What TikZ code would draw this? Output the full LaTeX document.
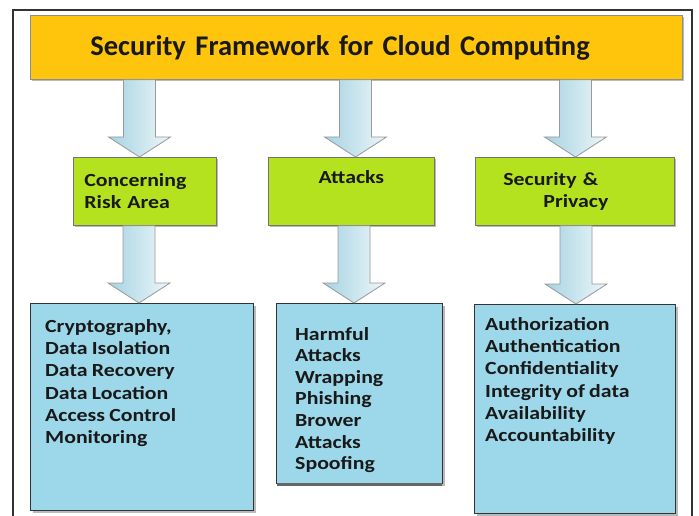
\documentclass[tikz,border=0pt]{standalone}
\usepackage{fontspec}
\setmainfont{Carlito}[WordSpace=0.85]
\newfontfamily\boxfont{Carlito}[FakeStretch=1.18,WordSpace=0.85]
\usetikzlibrary{shadows,calc}
\definecolor{orangefill}{RGB}{255,196,12}
\definecolor{greenfill}{RGB}{180,226,30}
\definecolor{bluefill}{RGB}{157,216,234}
\definecolor{arrowblue}{RGB}{165,211,226}
\definecolor{textdark}{RGB}{25,25,25}
\begin{document}
\begin{tikzpicture}[x=1pt,y=-1pt,
  shade/.style={drop shadow={shadow xshift=2pt,shadow yshift=-2pt,fill=black!45,opacity=0.6}},
  titlebox/.style={draw=black!45,line width=0.8pt,fill=orangefill,shade,minimum width=652pt,minimum height=64pt,anchor=north west,
     text width=532pt,align=left,inner xsep=60pt,font=\bfseries\fontsize{28.5}{30}\selectfont,text=textdark},
  greenbox/.style={draw=black!55,line width=0.8pt,fill=greenfill,shade,minimum height=68pt,anchor=north west,
     font=\boxfont\bfseries\fontsize{18.5}{22}\selectfont,text=textdark},
  bluebox/.style={draw=black!80,line width=1.2pt,fill=bluefill,shade,anchor=north west},
  itemtext/.style={anchor=north west,align=left,inner sep=0pt,font=\boxfont\bfseries\fontsize{18.5}{22.3}\selectfont,text=textdark},
  blockarrow/.style={draw=black!40,line width=0.8pt,left color=arrowblue,right color=arrowblue!20}
]
\useasboundingbox (0,0) rectangle (699,516);
\fill[white] (0,0) rectangle (699,516);
% outer frame
\draw[line width=2pt,black!80] (13,516) -- (13,10) -- (692,10) -- (692,516);

% title
\node[titlebox] (title) at (30,15) {Security Framework for Cloud Computing};

% green boxes
\node[greenbox,minimum width=143pt,text width=121pt,inner xsep=11pt,align=left] (g1) at (73,157) {Concerning\\Risk Area};
\node[greenbox,minimum width=166pt,text width=140pt,inner xsep=8pt,align=center] (g2) at (268,157) {Attacks\\\strut};
\node[greenbox,minimum width=199pt,text width=143pt,inner xsep=28pt,align=left] (g3) at (475,157) {Security \&\\\hspace*{40pt}Privacy};

% blue boxes
\node[bluebox,minimum width=223pt,minimum height=207pt] (b1) at (30,303) {};
\node[bluebox,minimum width=166pt,minimum height=180pt] (b2) at (276,303) {};
\draw[line width=3pt,black!60] ([xshift=1pt]b2.south west) -- ([xshift=-1pt]b2.south east);
\node[bluebox,minimum width=201pt,minimum height=209pt] (b3) at (474,304) {};

\node[itemtext] (t1) at ($(b1.north west)+(15,16)$) {Cryptography,\\Data Isolation\\Data Recovery\\Data Location\\Access Control\\Monitoring};
\node[itemtext,font=\boxfont\bfseries\fontsize{18.5}{21.6}\selectfont] (t2) at ($(b2.north west)+(19,24)$) {Harmful\\Attacks\\Wrapping\\Phishing\\Brower\\Attacks\\Spoofing};
\node[itemtext] (t3) at ($(b3.north west)+(11,13)$) {Authorization\\Authentication\\Confidentiality\\Integrity of data\\Availability\\Accountability};

% arrow axes
\coordinate (c1) at (139.5,0);
\coordinate (c2) at (355.5,0);
\coordinate (c3) at (575.5,0);
\coordinate (d1) at (139,0);
\coordinate (d2) at (354,0);
\coordinate (d3) at (576,0);

\newcommand\blkarrow[2]{%
  \path[blockarrow] let \p1=(#1), \p2=(#2) in
    (\x1-16pt,\y1) -- (\x1+16pt,\y1) -- (\x1+16pt,\y2+20pt) -- (\x1+31pt,\y2+20pt) --
    (\x1,\y2) -- (\x1-31pt,\y2+20pt) -- (\x1-16pt,\y2+20pt) -- cycle;}
\blkarrow{title.south -| c1}{g1.north -| c1}
\blkarrow{title.south -| c2}{g2.north -| c2}
\blkarrow{title.south -| c3}{g3.north -| c3}
\blkarrow{g1.south -| d1}{b1.north -| d1}
\blkarrow{g2.south -| d2}{b2.north -| d2}
\blkarrow{g3.south -| d3}{b3.north -| d3}
\end{tikzpicture}
\end{document}
